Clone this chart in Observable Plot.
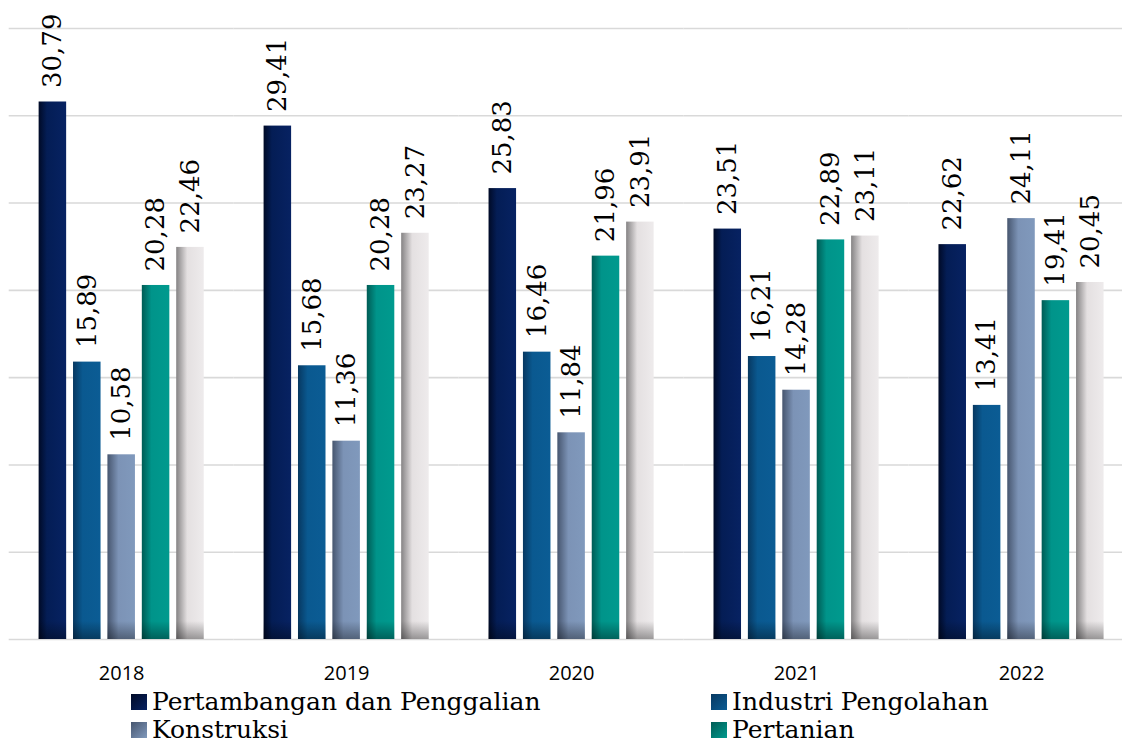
<!DOCTYPE html>
<html>
<head>
<meta charset="utf-8">
<script src="https://cdn.jsdelivr.net/npm/d3@7"></script>
<script src="https://cdn.jsdelivr.net/npm/@observablehq/plot@0.6"></script>
<style>
  html, body { margin: 0; padding: 0; background: #fff; overflow: hidden; }
  #wrap { position: relative; width: 1122px; height: 745px; }
  .legend { position: absolute; left: 0; top: 688px; width: 1122px; height: 57px;
            font-family: "DejaVu Serif", serif; font-size: 25px; line-height: 28px; color: #000; }
  .item { position: absolute; white-space: nowrap; display: flex; align-items: center; }
  .sw { width: 16px; height: 16px; margin-right: 5px; display: inline-block; }
</style>
</head>
<body>
<div id="wrap"></div>
<script>
const years = ["2018", "2019", "2020", "2021", "2022"];
const seriesNames = ["Pertambangan dan Penggalian", "Industri Pengolahan", "Konstruksi", "Pertanian", "Lainnya"];
const pertambangan = [30.79, 29.41, 25.83, 23.51, 22.62];
const industri = [15.89, 15.68, 16.46, 16.21, 13.41];
const konstruksi = [10.58, 11.36, 11.84, 14.28, 24.11];
const pertanian = [20.28, 20.28, 21.96, 22.89, 19.41];
const lainnya = [22.46, 23.27, 23.91, 23.11, 20.45];
const yTicks = [0, 5, 10, 15, 20, 25, 30, 35];
const legendNames = ["Pertambangan dan Penggalian", "Industri Pengolahan", "Konstruksi", "Pertanian"];

const seriesValues = [pertambangan, industri, konstruksi, pertanian, lainnya];
const data = years.flatMap((yr, i) => seriesNames.map((s, k) => ({year: yr, series: s, k, value: seriesValues[k][i]})));

const grads = [
  [["0", "#000a26"], ["0.3", "#041d55"], ["1", "#072262"]],
  [["0", "#073861"], ["0.35", "#0a5990"], ["1", "#0b5c94"]],
  [["0", "#47566f"], ["0.4", "#7c93b6"], ["1", "#8099bc"]],
  [["0", "#005c55"], ["0.35", "#00948a"], ["1", "#009a8e"]],
  [["0", "#858384"], ["0.4", "#e4e0e1"], ["1", "#eeebec"]]
];

const fmt = v => v.toFixed(2).replace(".", ",");

const plot = Plot.plot({
  width: 1122,
  height: 688,
  marginLeft: 9,
  marginRight: 0,
  marginTop: 28,
  marginBottom: 49,
  style: {fontFamily: "'Open Sans', sans-serif", fontSize: "20px", color: "#000", background: "transparent", overflow: "visible"},
  fx: {domain: years, range: [8.7, 1133.5], padding: 0, round: false},
  x: {domain: seriesNames, paddingInner: 0.2, paddingOuter: 0.87, round: false, axis: null},
  y: {domain: [0, 35], axis: null},
  marks: [
    Plot.ruleY(yTicks, {stroke: "#d9d9d9", strokeWidth: 1.6}),
    ...seriesNames.map((s, k) => Plot.barY(data.filter(d => d.k === k), {fx: "year", x: "series", y: "value", fill: `url(#g${k})`})),
    Plot.barY(data, {fx: "year", x: "series", y: "value", fill: "url(#shade)"}),
    Plot.text(data, {fx: "year", x: "series", y: "value", text: d => fmt(d.value), rotate: -90, textAnchor: "start", dy: -14, fontSize: 26, fontFamily: "DejaVu Serif", fill: "#000"}),
    Plot.axisFx({anchor: "bottom", label: null, tickSize: 0, tickPadding: 26, fontSize: 20, fill: "#000"})
  ]
});

const svg = d3.select(plot);
const y0 = plot.scale("y").apply(0);
const defs = svg.insert("defs", ":first-child");
grads.forEach((stops, k) => {
  const g = defs.append("linearGradient").attr("id", `g${k}`).attr("x1", 0).attr("x2", 1).attr("y1", 0).attr("y2", 0);
  stops.forEach(([o, c]) => g.append("stop").attr("offset", o).attr("stop-color", c));
});
const sh = defs.append("linearGradient").attr("id", "shade").attr("gradientUnits", "userSpaceOnUse")
  .attr("x1", 0).attr("x2", 0).attr("y1", y0 - 18).attr("y2", y0);
sh.append("stop").attr("offset", 0).attr("stop-color", "#000").attr("stop-opacity", 0);
sh.append("stop").attr("offset", 1).attr("stop-color", "#000").attr("stop-opacity", 0.35);

const wrap = document.getElementById("wrap");
wrap.appendChild(plot);

const legend = document.createElement("div");
legend.className = "legend";
const pos = [[131, 0], [711, 0], [131, 28], [711, 28]];
legendNames.forEach((name, k) => {
  const it = document.createElement("div");
  it.className = "item";
  it.style.left = pos[k][0] + "px";
  it.style.top = pos[k][1] + "px";
  const sw = document.createElement("span");
  sw.className = "sw";
  const st = grads[k];
  sw.style.background = `linear-gradient(135deg, ${st[0][1]}, ${st[2][1]})`;
  const tx = document.createElement("span");
  tx.textContent = name;
  it.appendChild(sw);
  it.appendChild(tx);
  legend.appendChild(it);
});
wrap.appendChild(legend);
</script>
</body>
</html>
